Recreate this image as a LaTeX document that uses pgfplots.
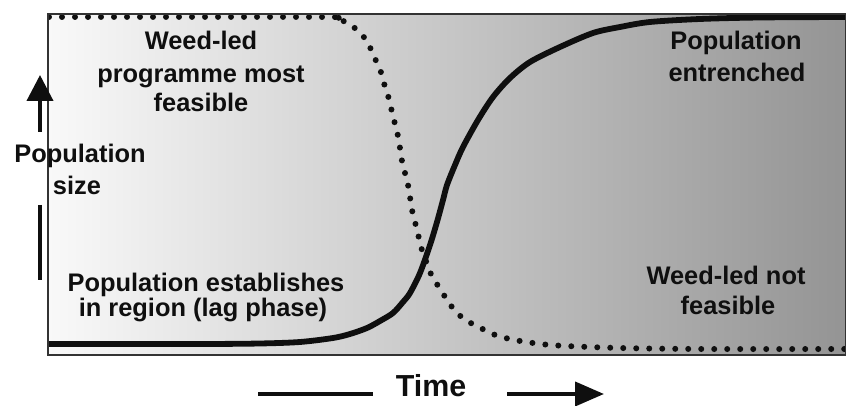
\documentclass[border=0pt]{standalone}
\usepackage{fontspec}
\setmainfont{Liberation Sans}
\usepackage{pgfplots}
\pgfplotsset{compat=1.18}
\usetikzlibrary{arrows.meta}
\definecolor{bgleft}{RGB}{249,249,249}
\definecolor{bgright}{RGB}{148,148,148}
\definecolor{ink}{RGB}{15,15,15}
\begin{document}
\begin{tikzpicture}
\useasboundingbox (0,0) rectangle (423pt,203pt);
\begin{axis}[
  at={(24pt,25.5pt)}, anchor=south west,
  scale only axis, width=399pt, height=170.5pt,
  xmin=48, xmax=846, ymin=-355, ymax=-14,
  axis line style={draw=black!80, line width=0.7pt},
  ticks=none, axis on top,
  clip=true,
]
\fill[left color=bgleft, right color=bgright] (rel axis cs:0,0) rectangle (rel axis cs:1,1);
% solid: population growth
\addplot[ink, line width=2.9pt, smooth, tension=0.5] coordinates {
(48,-344) (200,-344) (260,-343.5) (300,-342) (333,-338) (350,-334) (367,-328)
(380,-321) (393,-313) (403,-302) (410,-293) (420,-273) (430,-245) (437,-222)
(443,-200) (447,-185) (455,-165) (463,-147) (478,-120) (493,-97) (510,-78)
(530,-62) (560,-47) (593,-33) (620,-27) (650,-22) (700,-19) (760,-17.5) (846,-17)
};
% dotted: feasibility of weed-led programme
\addplot[ink, line width=3pt, line cap=round, dash pattern=on 0pt off 6.5pt, smooth, tension=0.5] coordinates {
(49,-17) (323,-17) (335,-18.5) (348,-23) (358,-31) (367,-41) (372,-52) (377,-63)
(382,-75) (385,-87) (389,-99) (392,-112) (395,-124) (398,-136) (400,-148)
(402,-161) (405,-173) (408,-185) (410,-197) (412,-210) (415,-222) (418,-234)
(421,-247) (425,-258) (429,-270) (435,-281) (442,-292) (449,-303) (457,-313)
(467,-321) (479,-327) (490,-333) (502,-337) (514,-340) (527,-342) (540,-344)
(566,-346) (620,-348) (700,-349) (846,-349)
};
\end{axis}
\begin{scope}[x=0.5pt, y=-0.5pt, yshift=203pt, every node/.style={inner sep=0pt, anchor=base, text=ink, font=\bfseries\fontsize{12.7}{15}\selectfont}]
\node at (201,50) {Weed-led};
\node at (201,82.5) {programme most};
\node at (201,112) {feasible};
\node at (80,163) {Population};
\node at (77,195) {size};
\node at (206,292) {Population establishes};
\node at (203,317) {in region (lag phase)};
\node at (736,50) {Population};
\node at (737,82) {entrenched};
\node at (726,285) {Weed-led not};
\node at (728,315) {feasible};
\node[font=\bfseries\fontsize{15.2}{18}\selectfont] at (431,397) {Time};
\draw[ink, line width=2pt, -{Triangle[length=13pt,width=13pt]}] (40,132) -- (40,75);
\draw[ink, line width=2pt] (40,205) -- (40,280);
\draw[ink, line width=2pt] (258,394) -- (373,394);
\draw[ink, line width=2pt, -{Triangle[length=14.5pt,width=12pt]}] (507,394) -- (604,394);
\end{scope}
\end{tikzpicture}
\end{document}
